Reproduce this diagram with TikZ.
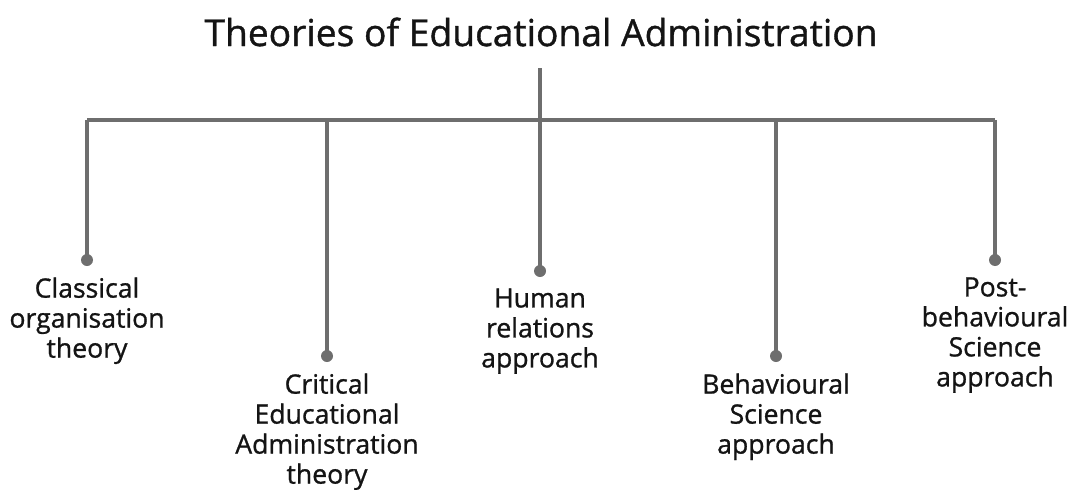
\documentclass[tikz,border=0pt]{standalone}
\usepackage{fontspec}
\setmainfont{Open Sans}[FakeBold=1]
\usetikzlibrary{positioning}
\definecolor{linegray}{RGB}{110,110,110}
\definecolor{textblack}{RGB}{20,20,20}

\begin{document}
\begin{tikzpicture}[x=1pt, y=-1pt,
    branch/.style={draw=linegray, line width=3.6pt},
    dot/.style={circle, fill=linegray, inner sep=0pt, minimum size=12pt},
    label/.style={align=center, text=textblack, font=\fontsize{26.6}{30}\selectfont, anchor=north, inner sep=0pt}]
    \useasboundingbox (0,0) rectangle (1077,490);

    \node[font=\fontsize{37.2}{40}\selectfont, text=textblack] (title) at (541,32) {Theories of Educational Administration};

    \coordinate (top) at (540,68);
    \coordinate (hub) at (540,120);

    \node[dot] (dot1) at (87,260) {};
    \node[dot] (dot2) at (327,356) {};
    \node[dot] (dot3) at (540,271) {};
    \node[dot] (dot4) at (776,356) {};
    \node[dot] (dot5) at (995,260) {};

    \draw[branch] (top) -- (dot3.center);
    \draw[branch] (dot1 |- hub) -- (dot5 |- hub);
    \foreach \d in {dot1,dot2,dot4,dot5}
        \draw[branch] (\d |- hub) -- (\d.center);

    \node[label, below=11pt of dot1] (classical) {Classical\\organisation\\theory};
    \node[label, below=11pt of dot2] (critical) {Critical\\Educational\\Administration\\theory};
    \node[label, below=11pt of dot3] (human) {Human\\relations\\approach};
    \node[label, below=11pt of dot4] (behav) {Behavioural\\Science\\approach};
    \node[label, below=11pt of dot5] (post) {Post-\\behavioural\\Science\\approach};
\end{tikzpicture}
\end{document}
